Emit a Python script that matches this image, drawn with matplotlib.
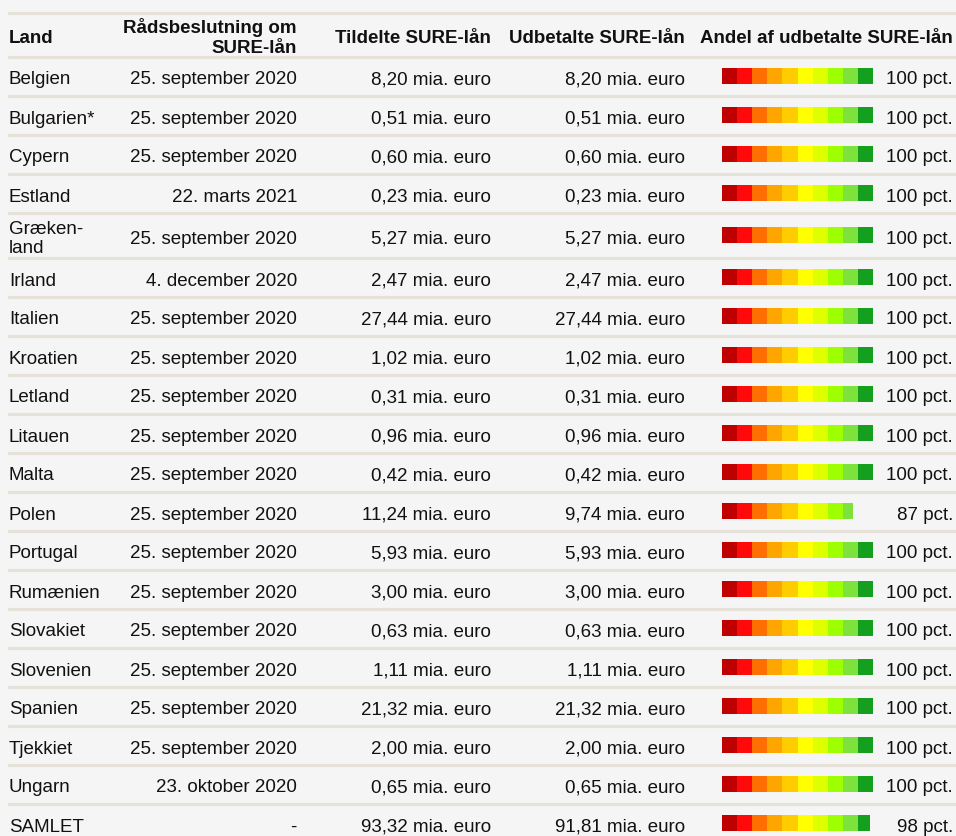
import matplotlib.pyplot as plt

# table data
lande = ['Belgien', 'Bulgarien*', 'Cypern', 'Estland', 'Græken-\nland', 'Irland', 'Italien',
         'Kroatien', 'Letland', 'Litauen', 'Malta', 'Polen', 'Portugal', 'Rumænien',
         'Slovakiet', 'Slovenien', 'Spanien', 'Tjekkiet', 'Ungarn', 'SAMLET']
beslutning = ['25. september 2020', '25. september 2020', '25. september 2020', '22. marts 2021',
              '25. september 2020', '4. december 2020', '25. september 2020', '25. september 2020',
              '25. september 2020', '25. september 2020', '25. september 2020', '25. september 2020',
              '25. september 2020', '25. september 2020', '25. september 2020', '25. september 2020',
              '25. september 2020', '25. september 2020', '23. oktober 2020', '-']
tildelt = [8.20, 0.51, 0.60, 0.23, 5.27, 2.47, 27.44, 1.02, 0.31, 0.96, 0.42, 11.24,
           5.93, 3.00, 0.63, 1.11, 21.32, 2.00, 0.65, 93.32]
udbetalt = [8.20, 0.51, 0.60, 0.23, 5.27, 2.47, 27.44, 1.02, 0.31, 0.96, 0.42, 9.74,
            5.93, 3.00, 0.63, 1.11, 21.32, 2.00, 0.65, 91.81]
andel = [100, 100, 100, 100, 100, 100, 100, 100, 100, 100, 100, 87,
         100, 100, 100, 100, 100, 100, 100, 98]
headers = ['Land', 'Rådsbeslutning om\nSURE-lån', 'Tildelte SURE-lån',
           'Udbetalte SURE-lån', 'Andel af udbetalte SURE-lån']
seg_colors = ['#bf0000', '#ff0a0a', '#ff6e00', '#ffa500', '#ffcc00',
              '#ffff00', '#ddff00', '#9eff00', '#7de33c', '#14a01e']

plt.rcParams['font.family'] = ['Liberation Sans', 'DejaVu Sans']
W, H = 956, 836
fig = plt.figure(figsize=(W / 100, H / 100), dpi=100, facecolor='#f5f5f5')
ax = fig.add_axes([0, 0, 1, 1])
ax.set_xlim(0, W)
ax.set_ylim(H, 0)
ax.axis('off')

def euro(v):
    return f'{v:.2f}'.replace('.', ',') + ' mia. euro'

# row boundaries
top = 13
header_h = 44
row_h = 39
lines = [top, top + header_h]
for name in lande:
    h = row_h + 6 if '\n' in name else row_h
    lines.append(lines[-1] + h)

line_kw = dict(color='#e6e2da', lw=2.3, zorder=1)
for y in lines:
    ax.plot([9, W], [y, y], **line_kw)

fs = 13.5
tc = '#111111'
dy = 3.5  # visual offset of text vs. row middle
hy = top + header_h / 2 + dy
hkw = dict(va='center', fontsize=fs, fontweight='bold', color=tc)
ax.text(9, hy, headers[0], ha='left', **hkw)
ax.text(297, hy - 1, headers[1], ha='right', linespacing=1.2, **hkw)
ax.text(491, hy, headers[2], ha='right', **hkw)
ax.text(685, hy, headers[3], ha='right', **hkw)
ax.text(953, hy, headers[4], ha='right', **hkw)

centers = []
kw = dict(va='center', fontsize=fs, color=tc)
for i in range(len(lande)):
    mid = (lines[i + 1] + lines[i + 2]) / 2
    centers.append(mid)
    yc = mid + dy
    ax.text(9, yc, lande[i], ha='left', linespacing=1.2, **kw)
    ax.text(297, yc, beslutning[i], ha='right', **kw)
    ax.text(491, yc, euro(tildelt[i]), ha='right', **kw)
    ax.text(685, yc, euro(udbetalt[i]), ha='right', **kw)
    ax.text(953, yc, f'{andel[i]} pct.', ha='right', **kw)

# segmented bars in their own axes (x in percent)
bx = fig.add_axes([722 / W, 0, 151 / W, 1])
bx.set_xlim(0, 100)
bx.set_ylim(H, 0)
bx.axis('off')
bx.patch.set_alpha(0)
for s, col in enumerate(seg_colors):
    lo = s * 10
    widths = [max(0, min(10, p - lo)) for p in andel]
    bx.barh([c - 0.5 for c in centers], widths, left=lo, height=16, color=col, lw=0)

fig.savefig('out.png', dpi=100, facecolor=fig.get_facecolor())
